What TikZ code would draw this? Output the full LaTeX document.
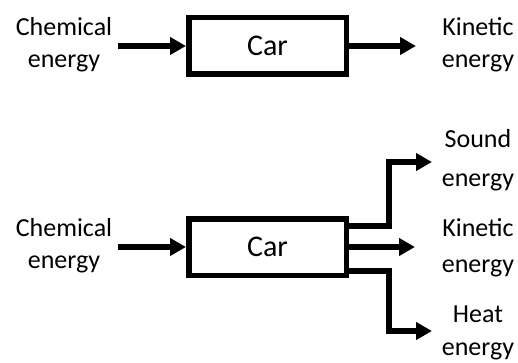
\documentclass[tikz,border=0pt]{standalone}
\usepackage{fontspec}
\setmainfont{Carlito}
\usetikzlibrary{arrows.meta}
\begin{document}
\begin{tikzpicture}[x=1pt,y=-1pt,
  flow/.style={line width=5.5pt, -{Triangle[length=16pt,width=17pt]}},
  process/.style={draw, line width=5.5pt, minimum width=157.5pt,
    minimum height=56.5pt, inner sep=0pt, font=\fontsize{30}{36}\selectfont},
  lbl/.style={anchor=base, inner sep=0pt, font=\fontsize{26}{31}\selectfont}]
\useasboundingbox (0,0) rectangle (518,363);

% --- simple model: one input, one output ---
\node[process] (car1) at (267.5,46) {Car};
\coordinate (in1) at (118,46);
\coordinate (out1) at (416,46);
\draw[flow] (in1) -- (car1.west);
\draw[flow] (car1.east) -- (out1);

\node[lbl] (chemA1) at (64,36) {Chemical};
\node[lbl] (chemA2) at (64,68) {energy};
\node[lbl] (kinA1) at (478,36) {Kinetic};
\node[lbl] (kinA2) at (478,68) {energy};

% --- fuller model: one input, three outputs ---
\node[process] (car2) at (267.5,247) {Car};
\coordinate (in2) at (118,247);
\coordinate (out2) at (415,247);
\coordinate (snd) at (432,162);
\coordinate (heat) at (432,331);
\coordinate (jx) at (389,0);
\draw[flow] (in2) -- (car2.west);
\draw[flow] (car2.east) -- (out2);
\draw[flow] ([yshift=21pt]car2.east) -| (jx |- snd) -- (snd);
\draw[flow] ([yshift=-24pt]car2.east) -| (jx |- heat) -- (heat);

\node[lbl] (chemB1) at (64,236) {Chemical};
\node[lbl] (chemB2) at (64,268) {energy};
\node[lbl] (sndB1) at (478,148) {Sound};
\node[lbl] (sndB2) at (478,186) {energy};
\node[lbl] (kinB1) at (478,236) {Kinetic};
\node[lbl] (kinB2) at (478,272) {energy};
\node[lbl] (heatB1) at (478,322) {Heat};
\node[lbl] (heatB2) at (478,355) {energy};
\end{tikzpicture}
\end{document}
